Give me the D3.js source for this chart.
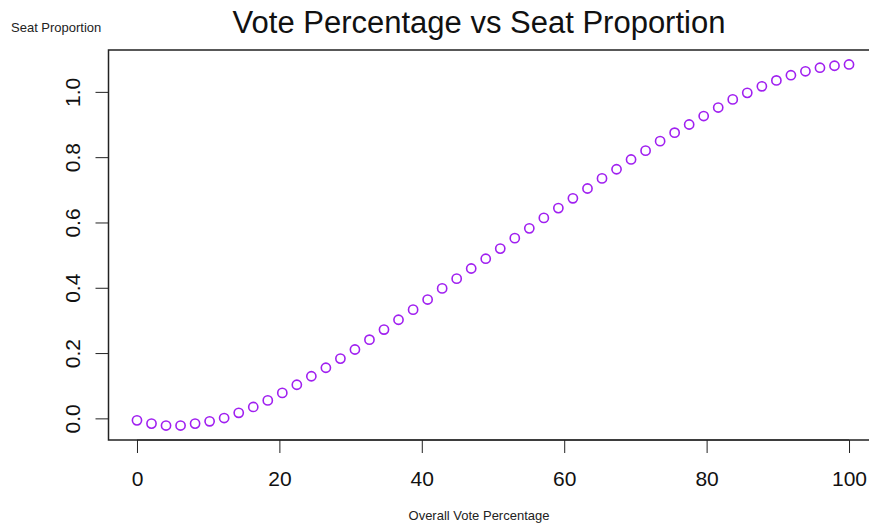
<!DOCTYPE html>
<html>
<head>
<meta charset="utf-8">
<script src="https://cdn.jsdelivr.net/npm/d3@7"></script>
<style>
  body { margin: 0; background: #fff; }
  text { font-family: "Liberation Sans", Arial, Helvetica, sans-serif; }
</style>
</head>
<body>
<div id="chart"></div>
<script>
// overall vote percentage (x) and seat proportion (y)
const votePct = [0, 2.04, 4.08, 6.12, 8.16, 10.2, 12.24, 14.29, 16.33, 18.37,
    20.41, 22.45, 24.49, 26.53, 28.57, 30.61, 32.65, 34.69, 36.73, 38.78,
    40.82, 42.86, 44.9, 46.94, 48.98, 51.02, 53.06, 55.1, 57.14, 59.18,
    61.22, 63.27, 65.31, 67.35, 69.39, 71.43, 73.47, 75.51, 77.55, 79.59,
    81.63, 83.67, 85.71, 87.76, 89.8, 91.84, 93.88, 95.92, 97.96, 100]
const seatProp = [-0.006, -0.016, -0.022, -0.022, -0.016, -0.009, 0.001, 0.017, 0.035, 0.055,
    0.078, 0.103, 0.129, 0.155, 0.183, 0.211, 0.241, 0.272, 0.302, 0.333,
    0.364, 0.398, 0.428, 0.459, 0.489, 0.520, 0.552, 0.582, 0.614, 0.644,
    0.674, 0.704, 0.735, 0.763, 0.793, 0.820, 0.849, 0.875, 0.900, 0.926,
    0.952, 0.977, 0.997, 1.017, 1.035, 1.051, 1.063, 1.074, 1.080, 1.084]
const xTicks = [0, 20, 40, 60, 80, 100]
const yTicks = [0.0, 0.2, 0.4, 0.6, 0.8, 1.0]

const width = 869,
    height = 525,
    plotLeft = 108.5, // plot box, R style
    plotRight = 877.5,
    plotTop = 50,
    plotBottom = 440,
    tickLen = 13,
    color = "#a020f0"

// R pads the data range by 4% on each side
const pad = (lo, hi) => [lo - (hi - lo) * 0.04, hi + (hi - lo) * 0.04]
const xScale = d3.scaleLinear(pad(...d3.extent(votePct)), [plotLeft, plotRight])
const yScale = d3.scaleLinear(pad(...d3.extent(seatProp)), [plotBottom, plotTop])

const svg = d3.select("#chart")
    .append("svg")
    .attr("width", width)
    .attr("height", height)
    .attr("viewBox", [0, 0, width, height])

// x axis
svg.append("g")
    .attr("transform", `translate(0,${plotBottom})`)
    .call(d3.axisBottom(xScale).tickValues(xTicks).tickSize(tickLen).tickPadding(18).tickFormat(d3.format("d")))
    .call(g => g.select(".domain").attr("d", `M${xScale(0)},0H${xScale(100)}`).attr("stroke", "#222"))
    .call(g => g.selectAll(".tick line").attr("stroke", "#222"))
    .call(g => g.selectAll(".tick text")
        .attr("font-size", 21)
        .attr("fill", "#111")
        .attr("font-family", "Liberation Sans, Arial, sans-serif"))

// y axis, labels turned like R's default las = 0
svg.append("g")
    .attr("transform", `translate(${plotLeft},0)`)
    .call(d3.axisLeft(yScale).tickValues(yTicks).tickSize(tickLen).tickFormat(d3.format(".1f")))
    .call(g => g.select(".domain").attr("d", `M0,${yScale(0)}V${yScale(1)}`).attr("stroke", "#222"))
    .call(g => g.selectAll(".tick line").attr("stroke", "#222"))
    .call(g => g.selectAll(".tick text")
        .attr("font-size", 21)
        .attr("fill", "#111")
        .attr("font-family", "Liberation Sans, Arial, sans-serif")
        .attr("x", null)
        .attr("dy", null)
        .attr("text-anchor", "middle")
        .attr("transform", "translate(-36,0) rotate(-90)")
        .attr("dominant-baseline", "central"))

// plot box
svg.append("rect")
    .attr("x", plotLeft)
    .attr("y", plotTop)
    .attr("width", plotRight - plotLeft)
    .attr("height", plotBottom - plotTop)
    .attr("fill", "none")
    .attr("stroke", "#222")
    .attr("stroke-width", 1.5)

// points
svg.append("g")
    .attr("fill", "none")
    .attr("stroke", color)
    .attr("stroke-width", 1.6)
    .selectAll("circle")
    .data(d3.range(votePct.length))
    .join("circle")
    .attr("cx", i => xScale(votePct[i]))
    .attr("cy", i => yScale(seatProp[i]))
    .attr("r", 4.6)

// titles
svg.append("text")
    .attr("x", 479)
    .attr("y", 33)
    .attr("text-anchor", "middle")
    .attr("font-size", 31)
    .attr("fill", "#111")
    .text("Vote Percentage vs Seat Proportion")

svg.append("text")
    .attr("x", 11)
    .attr("y", 32)
    .attr("font-size", 13)
    .attr("fill", "#222")
    .text("Seat Proportion")

svg.append("text")
    .attr("x", 479)
    .attr("y", 520)
    .attr("text-anchor", "middle")
    .attr("font-size", 13)
    .attr("fill", "#222")
    .text("Overall Vote Percentage")
</script>
</body>
</html>
